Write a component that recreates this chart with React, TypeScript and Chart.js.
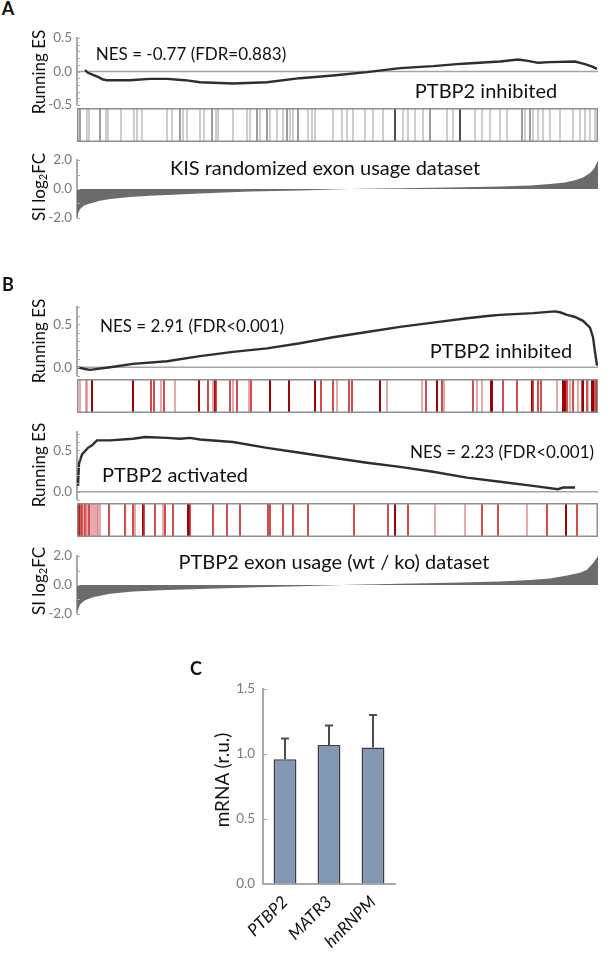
import React, { useEffect, useRef } from 'react';
import { Chart, registerables } from 'chart.js';

Chart.register(...registerables);

const FONT = 'Lato, "Open Sans", sans-serif';
Chart.defaults.font.family = FONT;

const RANK_MAX = 1042;

// ---------------- Panel A data ----------------
const esARank = [16, 22, 32, 42, 52, 60, 106, 146, 180, 216, 246, 312, 380, 446, 512, 580, 646, 712, 760, 780, 846, 882, 902, 922, 946, 996, 1016, 1032, 1040];
const esAValue = [0.02, -0.02, -0.05, -0.08, -0.12, -0.13, -0.13, -0.11, -0.11, -0.13, -0.16, -0.18, -0.16, -0.1, -0.06, -0.01, 0.05, 0.08, 0.11, 0.12, 0.15, 0.18, 0.16, 0.13, 0.14, 0.15, 0.11, 0.07, 0.04];

const hitsARank = [6, 20, 24, 46, 58, 62, 88, 114, 120, 130, 180, 190, 206, 212, 220, 246, 254, 270, 278, 282, 312, 340, 346, 360, 366, 380, 386, 400, 412, 420, 426, 432, 442, 462, 470, 476, 512, 530, 540, 552, 576, 592, 612, 636, 652, 662, 676, 692, 706, 740, 752, 766, 796, 810, 826, 846, 860, 890, 896, 906, 912, 922, 932, 946, 966, 992, 1006, 1016, 1026, 1036];
const hitsAWeight = [1, 0, 0, 1, 0, 0, 0, 0, 0, 0, 0, 0, 1, 0, 0, 0, 0, 1, 0, 0, 0, 0, 0, 1, 0, 1, 0, 0, 0, 1, 0, 0, 1, 0, 0, 0, 0, 0, 0, 0, 0, 0, 0, 2, 0, 0, 0, 0, 1, 0, 0, 2, 0, 0, 0, 0, 0, 1, 0, 1, 0, 0, 0, 0, 0, 0, 0, 0, 0, 0];

const rankedARank = [0, 2, 6, 14, 26, 46, 66, 106, 146, 246, 346, 446, 526, 566, 646, 746, 846, 906, 946, 976, 996, 1012, 1026, 1034, 1038, 1042];
const rankedAValue = [-1.95, -1.7, -1.4, -1.15, -1.0, -0.82, -0.7, -0.55, -0.46, -0.31, -0.18, -0.1, -0.02, 0.02, 0.06, 0.1, 0.17, 0.25, 0.35, 0.45, 0.6, 0.8, 1.1, 1.4, 1.7, 1.95];

// ---------------- Panel B data ----------------
const esB1Rank = [2, 16, 26, 66, 112, 180, 246, 312, 380, 446, 512, 580, 646, 712, 780, 826, 846, 912, 956, 966, 980, 996, 1012, 1026, 1032, 1036, 1040];
const esB1Value = [0.0, -0.02, -0.03, 0.0, 0.04, 0.07, 0.13, 0.18, 0.22, 0.28, 0.35, 0.41, 0.47, 0.52, 0.57, 0.6, 0.61, 0.63, 0.65, 0.64, 0.61, 0.585, 0.54, 0.46, 0.35, 0.18, 0.02];

const hitsB1Rank = [6, 18, 20, 30, 112, 148, 154, 168, 174, 196, 244, 262, 272, 276, 278, 306, 312, 320, 344, 348, 386, 424, 476, 488, 512, 520, 544, 550, 606, 620, 690, 698, 720, 730, 734, 792, 800, 810, 828, 830, 852, 880, 910, 912, 922, 928, 960, 972, 976, 980, 986, 992, 1002, 1010, 1012, 1020, 1022, 1030, 1032, 1036, 1040, 1042];
const hitsB1Weight = [0, 0, 0, 2, 2, 1, 1, 0, 1, 0, 2, 1, 0, 2, 1, 1, 0, 1, 0, 1, 2, 2, 2, 1, 1, 0, 1, 1, 2, 0, 0, 1, 2, 1, 0, 1, 0, 0, 2, 2, 1, 1, 2, 1, 1, 1, 0, 2, 2, 1, 0, 1, 0, 1, 2, 1, 0, 2, 2, 1, 2, 2];

const esB2Rank = [2, 4, 10, 22, 30, 40, 66, 112, 136, 180, 206, 226, 246, 312, 380, 446, 512, 580, 646, 712, 780, 846, 912, 962, 972, 996];
const esB2Value = [0.07, 0.34, 0.45, 0.53, 0.56, 0.62, 0.62, 0.64, 0.66, 0.65, 0.64, 0.65, 0.63, 0.6, 0.53, 0.47, 0.41, 0.35, 0.3, 0.24, 0.17, 0.12, 0.07, 0.03, 0.05, 0.05];

const hitsB2Rank = [4, 6, 8, 10, 12, 16, 18, 20, 24, 28, 32, 36, 40, 42, 46, 64, 96, 112, 116, 132, 134, 156, 172, 176, 192, 222, 224, 226, 272, 300, 326, 382, 386, 412, 432, 462, 554, 622, 636, 662, 716, 776, 810, 842, 900, 940, 978, 1000];
const hitsB2Weight = [2, 1, 0, 1, 0, 1, 0, 0, 1, 0, 0, 0, 0, 0, 0, 1, 1, 1, 0, 2, 1, 1, 0, 1, 1, 2, 2, 1, 1, 1, 1, 1, 1, 1, 1, 1, 1, 1, 2, 1, 0, 0, 1, 1, 0, 1, 2, 1];

const rankedBRank = [0, 6, 16, 32, 66, 112, 180, 246, 312, 380, 446, 500, 546, 646, 746, 846, 906, 946, 980, 1006, 1020, 1032, 1038, 1042];
const rankedBValue = [-1.9, -1.35, -1.05, -0.85, -0.6, -0.45, -0.35, -0.28, -0.2, -0.13, -0.08, -0.03, 0.02, 0.08, 0.15, 0.25, 0.35, 0.45, 0.65, 0.85, 1.05, 1.5, 1.8, 2.0];

// ---------------- Panel C data ----------------
const geneLabels = ['PTBP2', 'MATR3', 'hnRNPM'];
const mrnaMean = [0.96, 1.07, 1.05];
const mrnaErr = [0.16, 0.15, 0.25];

const esTicks = [-0.5, 0, 0.5];
const esMinorA = [-0.5, -0.4, -0.3, -0.2, -0.1, 0, 0.1, 0.2, 0.3, 0.4, 0.5];
const esTicksB = [0, 0.5];
const esMinorB = [-0.1, 0, 0.1, 0.2, 0.3, 0.4, 0.5, 0.6, 0.7];
const rankedTicks = [-2, 0, 2];
const rankedMinor = [-2, -1, 0, 1, 2];
const mrnaTicks = [0, 0.5, 1.0, 1.5];

// ---------------- styles ----------------
const AXIS_GRAY = '#a9a9a9';
const TICK_TEXT = '#7a7a7a';
const GRAY_PALETTE = ['#cdcdcd', '#9c9c9c', '#4a4a4a'];
const RED_PALETTE = ['rgba(215,110,110,0.6)', 'rgba(200,40,40,0.85)', '#9a0000'];

// ---------------- plugins ----------------
const innerTicksPlugin = {
  id: 'innerTicks',
  afterDraw(chart: any, _a: any, opts: any) {
    if (!opts || !opts.values) return;
    const y = chart.scales.y;
    const ctx = chart.ctx;
    const left = chart.chartArea.left;
    ctx.save();
    ctx.strokeStyle = AXIS_GRAY;
    ctx.lineWidth = 1;
    for (const v of opts.values) {
      const py = Math.round(y.getPixelForValue(v)) + 0.5;
      ctx.beginPath();
      ctx.moveTo(left, py);
      ctx.lineTo(left + (opts.len || 3), py);
      ctx.stroke();
    }
    ctx.restore();
  },
};

const zeroLinePlugin = {
  id: 'zeroLine',
  beforeDatasetsDraw(chart: any, _a: any, opts: any) {
    if (!opts || !opts.color) return;
    const y = chart.scales.y;
    const { left, right } = chart.chartArea;
    const py = y.getPixelForValue(0);
    const ctx = chart.ctx;
    ctx.save();
    ctx.strokeStyle = opts.color;
    ctx.lineWidth = 1.5;
    ctx.beginPath();
    ctx.moveTo(left, py);
    ctx.lineTo(right, py);
    ctx.stroke();
    ctx.restore();
  },
};

const framePlugin = {
  id: 'frame',
  afterDraw(chart: any, _a: any, opts: any) {
    if (!opts || !opts.color) return;
    const { left, top, right, bottom } = chart.chartArea;
    const ctx = chart.ctx;
    ctx.save();
    ctx.strokeStyle = opts.color;
    ctx.lineWidth = 1.5;
    ctx.strokeRect(left + 0.75, top + 0.75, right - left - 1.5, bottom - top - 1.5);
    ctx.restore();
  },
};

const errorBarsPlugin = {
  id: 'errorBars',
  afterDatasetsDraw(chart: any, _a: any, opts: any) {
    if (!opts || !opts.errors) return;
    const meta = chart.getDatasetMeta(0);
    const y = chart.scales.y;
    const values = chart.data.datasets[0].data;
    const ctx = chart.ctx;
    ctx.save();
    ctx.strokeStyle = opts.color || '#505050';
    ctx.lineWidth = 2;
    meta.data.forEach((el: any, i: number) => {
      const top = y.getPixelForValue(values[i] + opts.errors[i]);
      ctx.beginPath();
      ctx.moveTo(el.x, el.y);
      ctx.lineTo(el.x, top);
      ctx.moveTo(el.x - (opts.cap || 4), top);
      ctx.lineTo(el.x + (opts.cap || 4), top);
      ctx.stroke();
    });
    ctx.restore();
  },
};

Chart.register(innerTicksPlugin as any, zeroLinePlugin as any, framePlugin as any, errorBarsPlugin as any);

// ---------------- config builders ----------------
function yAxis(min: number, max: number, ticks: number[], width: number, pad = 5) {
  return {
    min,
    max,
    afterBuildTicks: (s: any) => {
      s.ticks = ticks.map((v) => ({ value: v }));
    },
    afterFit: (s: any) => {
      s.width = width;
    },
    border: { display: true, color: AXIS_GRAY, width: 2 },
    grid: { drawTicks: false, drawOnChartArea: false },
    ticks: {
      color: TICK_TEXT,
      font: { family: FONT, size: 13.5 },
      padding: pad,
      callback: (v: any) => Number(v).toFixed(1),
    },
  };
}

const baseOptions = {
  responsive: false,
  animation: false,
  devicePixelRatio: 1,
  events: [],
};

function esConfig(ranks: number[], values: number[], min: number, max: number, ticks: number[], minor: number[]) {
  return {
    type: 'line',
    data: {
      datasets: [
        {
          data: ranks.map((r, i) => ({ x: r, y: values[i] })),
          borderColor: '#2e2e2e',
          borderWidth: 2.4,
          pointRadius: 0,
          tension: 0,
          fill: false,
        },
      ],
    },
    options: {
      ...baseOptions,
      layout: { padding: { left: 0, right: 2, top: 10, bottom: 10 } },
      plugins: {
        legend: { display: false },
        tooltip: { enabled: false },
        zeroLine: { color: '#a4a4a4' },
        innerTicks: { values: minor, len: 3 },
      },
      scales: {
        x: { type: 'linear', min: 0, max: RANK_MAX, display: false },
        y: yAxis(min, max, ticks, 77),
      },
    },
  };
}

function rankedConfig(ranks: number[], values: number[]) {
  return {
    type: 'line',
    data: {
      datasets: [
        {
          data: ranks.map((r, i) => ({ x: r, y: values[i] })),
          borderColor: 'rgba(0,0,0,0)',
          borderWidth: 0,
          backgroundColor: '#6b6b6b',
          pointRadius: 0,
          tension: 0,
          fill: 'origin',
        },
      ],
    },
    options: {
      ...baseOptions,
      layout: { padding: { left: 0, right: 2, top: 10, bottom: 10 } },
      plugins: {
        legend: { display: false },
        tooltip: { enabled: false },
        innerTicks: { values: rankedMinor, len: 3 },
      },
      scales: {
        x: { type: 'linear', min: 0, max: RANK_MAX, display: false },
        y: yAxis(-2, 2, rankedTicks, 77),
      },
    },
  };
}

function barcodeConfig(ranks: number[], weights: number[], palette: string[]) {
  return {
    type: 'bar',
    data: {
      datasets: [
        {
          data: ranks.map((r) => ({ x: r, y: 1 })),
          backgroundColor: weights.map((w) => palette[w]),
          barThickness: 1.3,
          borderWidth: 0,
        },
      ],
    },
    options: {
      ...baseOptions,
      layout: { padding: { left: 77, right: 2, top: 0, bottom: 0 } },
      plugins: {
        legend: { display: false },
        tooltip: { enabled: false },
        frame: { color: '#8e8e8e' },
      },
      scales: {
        x: { type: 'linear', min: 0, max: RANK_MAX, offset: false, display: false },
        y: { min: 0, max: 1, display: false },
      },
    },
  };
}

function mrnaConfig() {
  return {
    type: 'bar',
    data: {
      labels: geneLabels,
      datasets: [
        {
          data: mrnaMean,
          backgroundColor: '#8197b3',
          borderColor: '#3c3c3c',
          borderWidth: 1.5,
          barPercentage: 0.52,
          categoryPercentage: 1,
        },
      ],
    },
    options: {
      ...baseOptions,
      layout: { padding: { left: 0, right: 15, top: 10, bottom: 0 } },
      plugins: {
        legend: { display: false },
        tooltip: { enabled: false },
        errorBars: { errors: mrnaErr, color: '#4d4d4d', cap: 4 },
        innerTicks: { values: mrnaTicks, len: 4 },
      },
      scales: {
        x: {
          border: { display: true, color: AXIS_GRAY, width: 2 },
          grid: { display: false, drawTicks: false },
          ticks: {
            color: '#111',
            font: { family: FONT, size: 17, style: 'italic' },
            minRotation: 45,
            maxRotation: 45,
            padding: 8,
          },
          afterFit: (s: any) => {
            s.height = 73;
          },
        },
        y: yAxis(0, 1.5, mrnaTicks, 113, 8),
      },
    },
  };
}

// ---------------- components ----------------
function ChartCanvas({ left, top, width, height, config }: any) {
  const ref = useRef<HTMLCanvasElement>(null);
  useEffect(() => {
    const chart = new Chart(ref.current as HTMLCanvasElement, config() as any);
    return () => chart.destroy();
  }, []);
  return (
    <canvas
      ref={ref}
      width={width}
      height={height}
      style={{ position: 'absolute', left, top, width, height }}
    />
  );
}

function Label({ x, y, size, children, rotate, bold, color }: any) {
  return (
    <div
      style={{
        position: 'absolute',
        left: x,
        top: y,
        transform: rotate ? 'translate(-50%, -50%) rotate(-90deg)' : 'translate(-50%, -50%)',
        fontSize: size,
        fontFamily: FONT,
        fontWeight: bold ? 700 : 400,
        color: color || '#111',
        whiteSpace: 'nowrap',
        lineHeight: 1.2,
      }}
    >
      {children}
    </div>
  );
}

function Log2FC() {
  return (
    <span>
      SI log<sub style={{ fontSize: '0.65em', verticalAlign: '-0.25em' }}>2</sub>FC
    </span>
  );
}

export default function App() {
  return (
    <div
      style={{
        position: 'absolute',
        left: 0,
        top: 0,
        width: 602,
        height: 957,
        background: '#fff',
        overflow: 'hidden',
      }}
    >
      {/* Panel A */}
      <ChartCanvas left={0} top={25} width={600} height={93} config={() => esConfig(esARank, esAValue, -0.5, 0.5, esTicks, esMinorA)} />
      <ChartCanvas left={0} top={108} width={600} height={34} config={() => barcodeConfig(hitsARank, hitsAWeight, GRAY_PALETTE)} />
      <ChartCanvas left={0} top={147} width={600} height={84} config={() => rankedConfig(rankedARank, rankedAValue)} />

      {/* Panel B */}
      <ChartCanvas left={0} top={294} width={600} height={95} config={() => esConfig(esB1Rank, esB1Value, -0.1, 0.7, esTicksB, esMinorB)} />
      <ChartCanvas left={0} top={379} width={600} height={34} config={() => barcodeConfig(hitsB1Rank, hitsB1Weight, RED_PALETTE)} />
      <ChartCanvas left={0} top={419} width={600} height={94} config={() => esConfig(esB2Rank, esB2Value, -0.1, 0.72, esTicksB, esMinorB)} />
      <ChartCanvas left={0} top={503} width={600} height={34} config={() => barcodeConfig(hitsB2Rank, hitsB2Weight, RED_PALETTE)} />
      <ChartCanvas left={0} top={543} width={600} height={84} config={() => rankedConfig(rankedBRank, rankedBValue)} />

      {/* Panel C */}
      <ChartCanvas left={150} top={673} width={260} height={284} config={mrnaConfig} />

      {/* Panel letters */}
      <Label x={8} y={9} size={18} bold>A</Label>
      <Label x={8} y={285} size={18} bold>B</Label>
      <Label x={196} y={669} size={18} bold>C</Label>

      {/* Axis titles */}
      <Label x={39} y={72} size={17} rotate>Running ES</Label>
      <Label x={39} y={187} size={17} rotate><Log2FC /></Label>
      <Label x={39} y={341} size={17} rotate>Running ES</Label>
      <Label x={39} y={465} size={17} rotate>Running ES</Label>
      <Label x={39} y={581} size={17} rotate><Log2FC /></Label>
      <Label x={222} y={780} size={19} rotate>mRNA (r.u.)</Label>

      {/* Annotations */}
      <Label x={191} y={54} size={17}>NES = -0.77 (FDR=0.883)</Label>
      <Label x={486} y={90} size={20}>PTBP2 inhibited</Label>
      <Label x={325} y={167} size={20}>KIS randomized exon usage dataset</Label>

      <Label x={192} y={326} size={17}>NES = 2.91 (FDR&lt;0.001)</Label>
      <Label x={501} y={350} size={20}>PTBP2 inhibited</Label>
      <Label x={175} y={474} size={20}>PTBP2 activated</Label>
      <Label x={502} y={452} size={17}>NES = 2.23 (FDR&lt;0.001)</Label>
      <Label x={334} y={561} size={20}>PTBP2 exon usage (wt / ko) dataset</Label>
    </div>
  );
}
